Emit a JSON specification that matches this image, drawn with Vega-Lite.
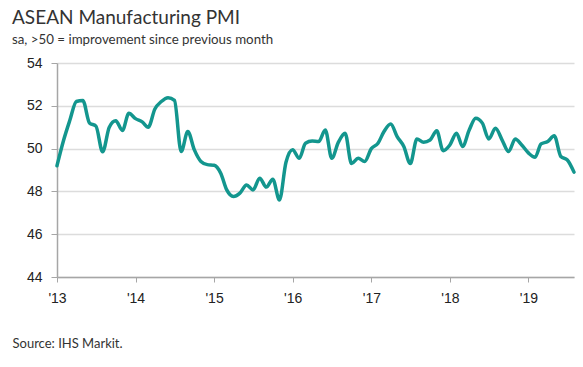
{
  "$schema": "https://vega.github.io/schema/vega-lite/v6.json",
  "width": 517,
  "height": 214,
  "autosize": "none",
  "padding": {"left": 57, "top": 63, "right": 9, "bottom": 90},
  "background": "white",
  "title": {
    "text": "ASEAN Manufacturing PMI",
    "subtitle": "sa, >50 = improvement since previous month",
    "anchor": "start",
    "frame": "group",
    "dx": -45,
    "offset": 10,
    "font": "Lato",
    "fontSize": 19,
    "fontWeight": "normal",
    "color": "#333333",
    "subtitleFont": "Lato",
    "subtitleFontSize": 13.3,
    "subtitleColor": "#333333",
    "subtitlePadding": 5
  },
  "config": {"view": {"stroke": null}},
  "data": {
    "values": [
      {"date": "2013-01-01", "pmi": 49.2},
      {"date": "2013-02-01", "pmi": 50.4},
      {"date": "2013-03-01", "pmi": 51.3},
      {"date": "2013-04-01", "pmi": 52.2},
      {"date": "2013-05-01", "pmi": 52.25},
      {"date": "2013-06-01", "pmi": 51.2},
      {"date": "2013-07-01", "pmi": 51.05},
      {"date": "2013-08-01", "pmi": 49.85},
      {"date": "2013-09-01", "pmi": 51.0},
      {"date": "2013-10-01", "pmi": 51.3},
      {"date": "2013-11-01", "pmi": 50.85},
      {"date": "2013-12-01", "pmi": 51.65},
      {"date": "2014-01-01", "pmi": 51.4},
      {"date": "2014-02-01", "pmi": 51.25},
      {"date": "2014-03-01", "pmi": 51.0},
      {"date": "2014-04-01", "pmi": 51.85},
      {"date": "2014-05-01", "pmi": 52.2},
      {"date": "2014-06-01", "pmi": 52.38},
      {"date": "2014-07-01", "pmi": 52.25},
      {"date": "2014-08-01", "pmi": 49.86},
      {"date": "2014-09-01", "pmi": 50.8},
      {"date": "2014-10-01", "pmi": 49.95},
      {"date": "2014-11-01", "pmi": 49.4},
      {"date": "2014-12-01", "pmi": 49.25},
      {"date": "2015-01-01", "pmi": 49.22},
      {"date": "2015-02-01", "pmi": 48.85},
      {"date": "2015-03-01", "pmi": 48.07},
      {"date": "2015-04-01", "pmi": 47.76},
      {"date": "2015-05-01", "pmi": 47.92},
      {"date": "2015-06-01", "pmi": 48.3},
      {"date": "2015-07-01", "pmi": 48.07},
      {"date": "2015-08-01", "pmi": 48.62},
      {"date": "2015-09-01", "pmi": 48.2},
      {"date": "2015-10-01", "pmi": 48.57},
      {"date": "2015-11-01", "pmi": 47.6},
      {"date": "2015-12-01", "pmi": 49.35},
      {"date": "2016-01-01", "pmi": 49.95},
      {"date": "2016-02-01", "pmi": 49.55},
      {"date": "2016-03-01", "pmi": 50.25},
      {"date": "2016-04-01", "pmi": 50.35},
      {"date": "2016-05-01", "pmi": 50.33},
      {"date": "2016-06-01", "pmi": 50.87},
      {"date": "2016-07-01", "pmi": 49.55},
      {"date": "2016-08-01", "pmi": 50.3},
      {"date": "2016-09-01", "pmi": 50.72},
      {"date": "2016-10-01", "pmi": 49.3},
      {"date": "2016-11-01", "pmi": 49.55},
      {"date": "2016-12-01", "pmi": 49.4},
      {"date": "2017-01-01", "pmi": 50.0},
      {"date": "2017-02-01", "pmi": 50.25},
      {"date": "2017-03-01", "pmi": 50.8},
      {"date": "2017-04-01", "pmi": 51.15},
      {"date": "2017-05-01", "pmi": 50.56},
      {"date": "2017-06-01", "pmi": 50.1},
      {"date": "2017-07-01", "pmi": 49.3},
      {"date": "2017-08-01", "pmi": 50.45},
      {"date": "2017-09-01", "pmi": 50.3},
      {"date": "2017-10-01", "pmi": 50.4},
      {"date": "2017-11-01", "pmi": 50.83},
      {"date": "2017-12-01", "pmi": 49.9},
      {"date": "2018-01-01", "pmi": 50.17},
      {"date": "2018-02-01", "pmi": 50.72},
      {"date": "2018-03-01", "pmi": 50.1},
      {"date": "2018-04-01", "pmi": 50.87},
      {"date": "2018-05-01", "pmi": 51.42},
      {"date": "2018-06-01", "pmi": 51.19},
      {"date": "2018-07-01", "pmi": 50.45},
      {"date": "2018-08-01", "pmi": 50.95},
      {"date": "2018-09-01", "pmi": 50.4},
      {"date": "2018-10-01", "pmi": 49.86},
      {"date": "2018-11-01", "pmi": 50.45},
      {"date": "2018-12-01", "pmi": 50.17},
      {"date": "2019-01-01", "pmi": 49.8},
      {"date": "2019-02-01", "pmi": 49.6},
      {"date": "2019-03-01", "pmi": 50.22},
      {"date": "2019-04-01", "pmi": 50.33},
      {"date": "2019-05-01", "pmi": 50.6},
      {"date": "2019-06-01", "pmi": 49.63},
      {"date": "2019-07-01", "pmi": 49.47},
      {"date": "2019-08-01", "pmi": 48.9}
    ]
  },
  "mark": {
    "type": "line",
    "interpolate": "monotone",
    "color": "#13968e",
    "strokeWidth": 3.5,
    "strokeCap": "round",
    "strokeJoin": "round"
  },
  "encoding": {
    "x": {
      "field": "date",
      "type": "temporal",
      "timeUnit": "utcyearmonth",
      "scale": {
        "domain": [
          {"year": 2013, "month": 1, "date": 1, "utc": true},
          {"year": 2019, "month": 8, "date": 1, "utc": true}
        ]
      },
      "axis": {
        "values": [
          {"year": 2013, "month": 1, "date": 1, "utc": true},
          {"year": 2014, "month": 1, "date": 1, "utc": true},
          {"year": 2015, "month": 1, "date": 1, "utc": true},
          {"year": 2016, "month": 1, "date": 1, "utc": true},
          {"year": 2017, "month": 1, "date": 1, "utc": true},
          {"year": 2018, "month": 1, "date": 1, "utc": true},
          {"year": 2019, "month": 1, "date": 1, "utc": true}
        ],
        "format": "'%y",
        "grid": false,
        "domainColor": "#a6a6a6",
        "domainWidth": 1.5,
        "tickColor": "#a6a6a6",
        "tickSize": 5,
        "labelPadding": 9,
        "labelFont": "Liberation Sans",
        "labelFontSize": 14,
        "labelColor": "#222222",
        "labelFlush": false,
        "title": "Source: IHS Markit.",
        "titleX": -45,
        "titleY": 70,
        "titleAlign": "left",
        "titleAnchor": null,
        "titleBaseline": "alphabetic",
        "titleFont": "Lato",
        "titleFontSize": 13,
        "titleFontWeight": "normal",
        "titleColor": "#333333"
      }
    },
    "y": {
      "field": "pmi",
      "type": "quantitative",
      "scale": {"domain": [44, 54], "zero": false},
      "axis": {
        "values": [44, 46, 48, 50, 52, 54],
        "grid": true,
        "gridColor": "#dcdcdc",
        "gridWidth": 1.5,
        "domainColor": "#a6a6a6",
        "domainWidth": 1.5,
        "tickColor": "#a6a6a6",
        "tickSize": 6,
        "labelPadding": 9,
        "labelFont": "Liberation Sans",
        "labelFontSize": 14,
        "labelColor": "#222222",
        "title": null
      }
    }
  }
}
